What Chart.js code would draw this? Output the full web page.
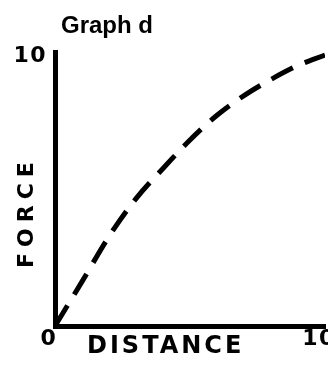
<!DOCTYPE html>
<html>
<head>
<meta charset="utf-8">
<script src="https://cdn.jsdelivr.net/npm/chart.js@4/dist/chart.umd.min.js"></script>
<style>
  html, body { margin: 0; padding: 0; background: #fff; }
  canvas { display: block; }
</style>
</head>
<body>
<canvas id="graphD" width="328" height="366"></canvas>
<script>
// values
const distance = [0, 1, 2, 3, 4, 5, 6, 7, 8, 9, 10];
const force = [0, 1.62, 3.27, 4.65, 5.75, 6.79, 7.69, 8.41, 9.0, 9.51, 9.89];

const xTickValues = [0, 10];
const xTickLabels = ['0', '10'];
const yTickValues = [10];
const yTickLabels = ['10'];

const chartTitle = 'Graph d';
const xTitle = 'DISTANCE';
const yTitle = 'FORCE';

const HEAVY = '"DejaVu Sans", sans-serif';
const NARROW = '"Liberation Sans", Arial, sans-serif';

// wide lettering like the printed sheet, and the titles placed by hand
const lettering = {
    id: 'lettering',
    beforeDraw(chart) {
        chart.ctx.letterSpacing = '1.5px';
    },
    afterDraw(chart) {
        const ctx = chart.ctx;
        ctx.save();
        ctx.fillStyle = '#000';
        ctx.textBaseline = 'alphabetic';
        ctx.textAlign = 'left';

        ctx.letterSpacing = '0px';
        ctx.font = 'bold 24px ' + NARROW;
        ctx.fillText(chartTitle, 61, 33);

        ctx.letterSpacing = '3px';
        ctx.font = 'bold 24px ' + HEAVY;
        ctx.fillText(xTitle, 87, 353);

        ctx.translate(33, 268);
        ctx.rotate(-Math.PI / 2);
        ctx.letterSpacing = '6px';
        ctx.font = 'bold 22px ' + HEAVY;
        ctx.fillText(yTitle, 0, 0);
        ctx.restore();
    }
};

function pickLabel(values, labels) {
    return function (value) {
        const i = values.indexOf(value);
        return i >= 0 ? labels[i] : '';
    };
}

const tickFont = { family: HEAVY, weight: 'bold', size: 22 };

new Chart(document.getElementById('graphD'), {
    type: 'line',
    data: {
        datasets: [{
            label: yTitle,
            data: distance.map((d, i) => ({ x: d, y: force[i] })),
            borderColor: '#000',
            borderWidth: 5,
            borderDash: [24, 13],
            pointRadius: 0,
            fill: false,
            cubicInterpolationMode: 'monotone'
        }]
    },
    options: {
        responsive: false,
        animation: false,
        layout: { padding: { top: 52, right: 3, left: 0, bottom: 0 } },
        plugins: {
            legend: { display: false },
            title: { display: false },
            tooltip: { enabled: false }
        },
        scales: {
            x: {
                type: 'linear',
                min: 0,
                max: 10,
                grid: { display: false, drawTicks: false },
                border: { display: true, width: 5, color: '#000' },
                ticks: {
                    stepSize: 10,
                    autoSkip: false,
                    maxRotation: 0,
                    padding: 0,
                    labelOffset: -6,
                    color: '#000',
                    font: tickFont,
                    callback: pickLabel(xTickValues, xTickLabels)
                },
                afterFit(scale) {
                    scale.height = 40;
                    scale.paddingLeft = 0;
                    scale.paddingRight = 0;
                }
            },
            y: {
                min: 0,
                max: 10,
                grid: { display: false, drawTicks: false },
                border: { display: true, width: 5, color: '#000' },
                ticks: {
                    stepSize: 10,
                    autoSkip: false,
                    padding: 8,
                    labelOffset: 4,
                    color: '#000',
                    font: tickFont,
                    callback: pickLabel(yTickValues, yTickLabels)
                },
                afterFit(scale) {
                    scale.width = 55;
                    scale.paddingTop = 0;
                    scale.paddingBottom = 0;
                }
            }
        }
    },
    plugins: [lettering]
});
</script>
</body>
</html>
